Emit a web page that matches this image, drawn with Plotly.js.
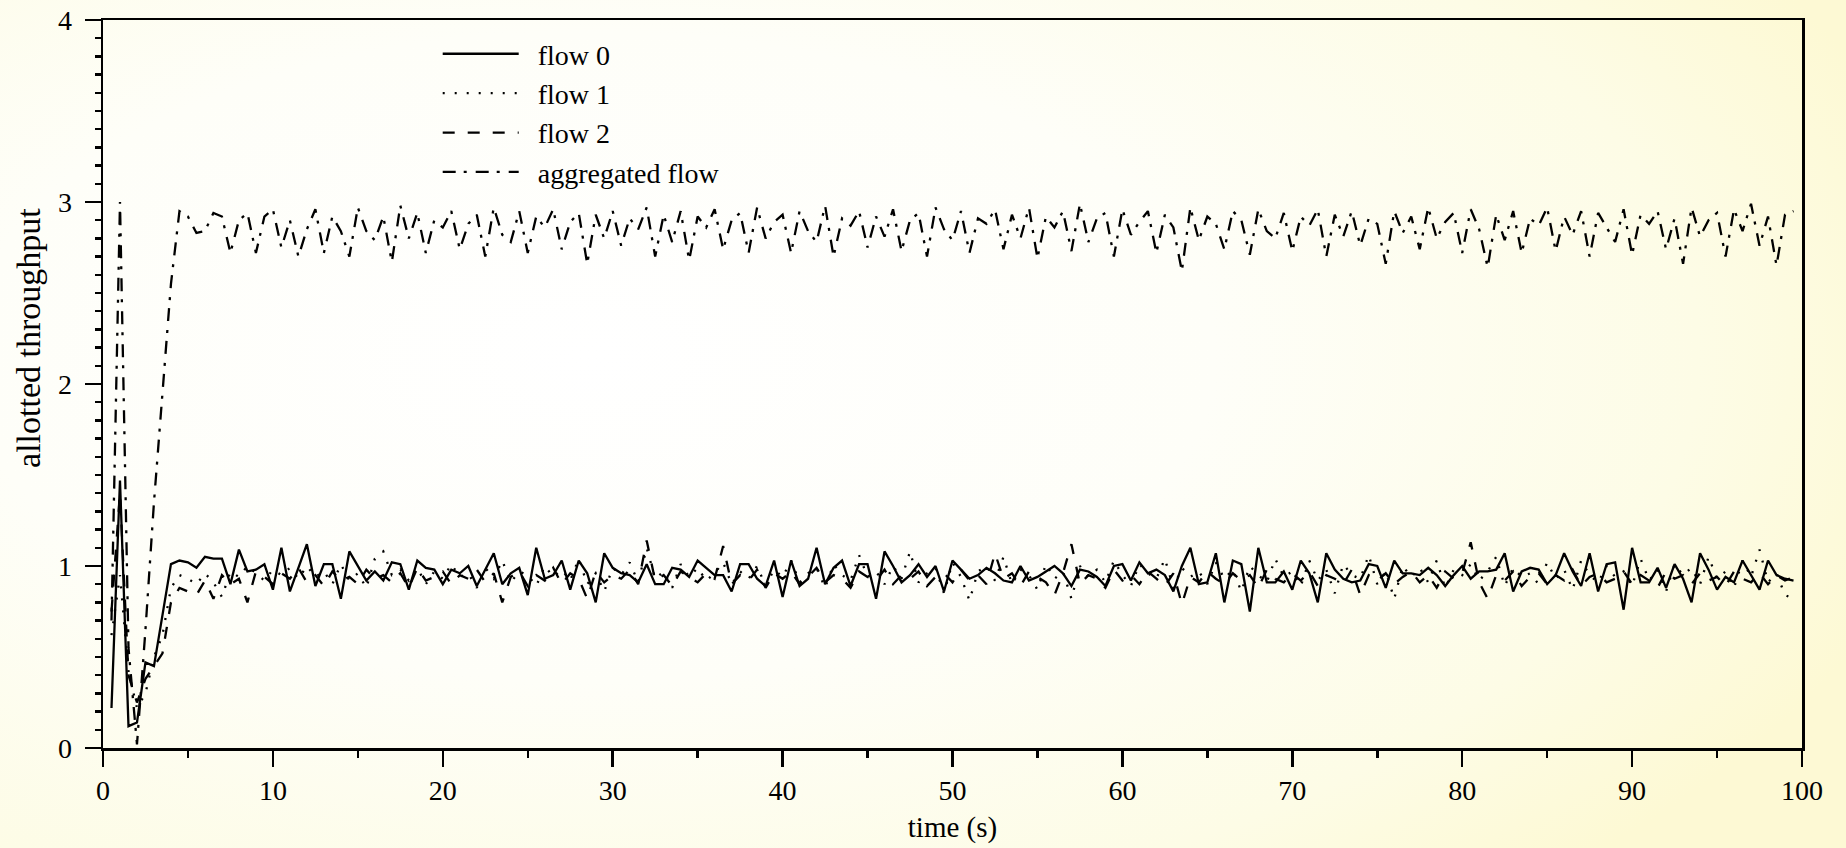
<!DOCTYPE html>
<html>
<head>
<meta charset="utf-8">
<script src="https://cdn.plot.ly/plotly-3.0.1.min.js"></script>
<style>
  html, body { margin: 0; padding: 0; }
  body {
    width: 1846px; height: 848px; overflow: hidden;
    background: radial-gradient(ellipse 75% 85% at 32% 42%, #ffffff 0%, #fefef8 45%, #fdfce6 80%, #fdf9d4 100%);
  }
  #chart { width: 1846px; height: 848px; }
</style>
</head>
<body>
<div id="chart"></div>
<script>
// sampling instants (s): every 0.5 s from 0.5 to 99.5
const time = Array.from({length: 199}, (_, i) => 0.5 * (i + 1));

const flow0 = [
0.22,1.47,0.12,0.14,0.47,0.45,0.73,1.01,1.03,1.02,
0.99,1.05,1.04,1.04,0.90,1.09,0.97,0.98,1.01,0.87,
1.10,0.86,0.99,1.12,0.89,1.01,1.01,0.82,1.08,1.00,
0.92,0.97,0.92,1.02,1.01,0.87,1.03,0.99,0.98,0.90,
0.98,0.96,1.00,0.89,0.98,1.07,0.90,0.96,0.99,0.84,
1.10,0.93,0.95,1.03,0.87,1.03,0.96,0.80,1.07,0.99,
0.96,0.95,0.91,1.01,0.90,0.90,0.99,0.98,0.94,1.03,
0.99,0.95,0.95,0.86,1.01,1.01,0.93,0.89,1.03,0.83,
1.03,0.89,0.93,1.10,0.90,0.99,1.03,0.89,1.01,1.01,
0.82,1.08,1.00,0.91,0.95,1.01,0.94,1.00,0.86,1.03,
0.98,0.93,0.95,0.99,0.96,0.92,0.91,1.00,0.92,0.94,
0.97,1.00,0.96,0.89,0.98,0.97,0.94,0.89,1.00,1.01,
0.92,1.02,0.96,0.98,0.95,0.86,1.00,1.10,0.90,0.91,
1.07,0.80,1.03,1.01,0.75,1.10,0.91,0.91,0.97,0.87,
1.03,0.96,0.80,1.07,0.98,0.93,0.91,0.92,1.01,1.00,
0.88,1.03,0.96,0.96,0.95,0.99,0.95,0.89,0.95,1.00,
0.93,0.97,0.97,0.98,1.07,0.86,0.97,0.99,0.98,0.90,
0.95,1.07,0.97,0.89,1.07,0.86,1.01,1.02,0.76,1.10,
0.91,0.91,0.99,0.88,1.01,0.93,0.80,1.07,0.98,0.87,
0.94,0.91,1.03,0.95,0.87,1.03,0.95,0.93,0.92
];

const flow1 = [
0.62,0.95,0.42,0.22,0.30,0.50,0.62,0.88,0.95,0.93,
0.90,0.96,0.91,0.83,0.97,0.94,1.00,0.96,0.92,0.98,
0.95,0.99,0.93,1.00,0.94,0.97,0.90,1.01,0.92,0.96,
0.88,1.04,1.08,0.95,0.98,0.92,0.99,0.90,0.97,0.93,
1.01,0.94,0.96,0.88,0.99,0.93,1.03,0.91,0.97,0.95,
0.89,1.00,0.94,0.98,0.92,1.04,0.90,0.96,0.86,0.99,
0.95,1.02,0.91,1.10,0.93,0.97,0.88,1.01,0.94,0.99,
0.92,0.96,1.02,0.90,0.97,0.93,1.00,0.89,0.98,0.94,
1.03,0.91,0.96,0.99,0.88,1.01,0.95,0.92,1.06,0.94,
0.97,0.90,1.00,0.93,1.08,0.91,0.96,0.99,0.85,1.02,
0.94,0.81,0.97,1.00,0.92,1.05,0.90,0.98,0.95,0.87,
1.01,0.93,0.97,0.82,1.00,0.94,0.98,0.91,1.03,0.95,
0.89,1.01,0.96,0.93,1.04,0.88,0.99,0.94,0.97,0.90,
1.02,0.93,0.98,0.86,1.00,0.95,0.91,1.04,0.94,0.97,
0.89,1.03,0.92,0.98,0.85,1.01,0.95,0.93,1.06,0.90,
0.97,0.82,1.00,0.94,0.99,0.91,1.03,0.88,0.98,0.95,
1.01,0.92,0.97,1.05,0.89,0.99,0.94,0.96,0.90,1.02,
0.93,0.98,0.87,1.03,0.95,0.91,1.00,0.94,0.97,0.89,
1.04,0.92,0.98,0.86,1.01,0.95,0.99,0.90,1.05,0.93,
0.97,0.88,1.03,0.94,1.09,0.91,0.96,0.84,0.82
];

const flow2 = [
0.75,1.40,0.40,0.25,0.38,0.45,0.52,0.80,0.88,0.86,
0.84,0.92,0.82,0.95,0.90,0.93,0.80,0.97,0.94,0.90,
0.96,0.93,0.99,0.91,0.95,0.89,0.97,0.92,0.94,0.90,
0.98,0.93,0.95,0.91,0.96,0.88,0.99,0.92,0.94,0.97,
0.90,0.95,0.93,0.98,0.91,0.96,0.80,0.94,0.97,0.89,
0.95,0.92,0.99,0.90,0.96,0.93,0.82,0.97,0.91,0.95,
0.93,0.98,0.90,1.14,0.92,0.95,0.89,0.97,0.94,0.91,
0.96,0.93,1.11,0.90,0.95,0.92,0.98,0.88,0.96,0.93,
0.97,0.90,0.94,0.99,0.91,0.95,0.93,0.88,0.97,0.94,
0.92,0.98,0.90,0.95,0.93,0.97,0.89,0.94,0.96,0.91,
0.98,0.92,0.95,0.90,1.07,0.93,0.96,0.89,0.97,0.94,
0.91,0.84,0.96,1.12,0.90,0.95,0.93,0.88,0.98,0.92,
0.95,0.90,0.97,0.93,0.89,0.96,0.79,0.94,0.91,0.97,
0.93,0.90,0.96,0.92,0.95,0.88,0.98,0.93,0.91,0.96,
0.92,0.97,0.89,0.95,0.93,0.90,0.98,0.84,0.95,0.92,
0.96,0.90,0.94,0.97,0.91,0.95,0.88,0.97,0.93,0.96,
1.13,0.91,0.82,0.95,0.92,0.97,0.89,0.94,0.96,0.90,
0.95,0.92,0.98,0.89,0.94,0.96,0.91,0.93,0.97,0.90,
0.95,0.92,0.88,0.97,0.93,0.95,0.90,0.96,0.92,0.94,
0.89,0.97,0.93,0.91,0.96,0.90,0.95,0.92,0.94
];

const aggregated = [
0.70,3.00,0.55,0.02,0.65,1.35,1.95,2.55,2.95,2.92,
2.83,2.84,2.94,2.92,2.72,2.90,2.94,2.72,2.92,2.96,
2.75,2.90,2.70,2.85,2.96,2.72,2.92,2.84,2.70,2.97,
2.84,2.79,2.92,2.67,2.98,2.80,2.94,2.72,2.90,2.86,
2.95,2.74,2.88,2.93,2.70,2.97,2.82,2.78,2.95,2.72,
2.92,2.86,2.96,2.74,2.89,2.94,2.66,2.93,2.80,2.95,
2.76,2.91,2.85,2.97,2.70,2.93,2.78,2.95,2.68,2.92,
2.86,2.96,2.74,2.90,2.94,2.72,2.97,2.80,2.89,2.93,
2.72,2.95,2.84,2.78,2.98,2.70,2.91,2.87,2.95,2.75,
2.92,2.81,2.96,2.73,2.90,2.94,2.70,2.97,2.85,2.79,
2.95,2.72,2.91,2.88,2.96,2.74,2.93,2.80,2.97,2.69,
2.92,2.86,2.95,2.73,2.99,2.78,2.91,2.94,2.70,2.96,
2.82,2.89,2.95,2.72,2.93,2.86,2.62,2.97,2.79,2.92,
2.88,2.74,2.95,2.90,2.71,2.96,2.84,2.80,2.94,2.73,
2.92,2.87,2.96,2.70,2.93,2.81,2.95,2.76,2.91,2.88,
2.66,2.95,2.83,2.92,2.74,2.97,2.80,2.89,2.94,2.72,
2.96,2.85,2.64,2.93,2.79,2.95,2.72,2.91,2.87,2.97,
2.73,2.92,2.82,2.95,2.70,2.94,2.86,2.78,2.96,2.71,
2.93,2.88,2.95,2.74,2.91,2.66,2.97,2.81,2.90,2.94,
2.70,2.96,2.84,2.99,2.76,2.92,2.65,2.93,2.95
];

const seriesNames = ['flow 0', 'flow 1', 'flow 2', 'aggregated flow'];
const xTickVals = [0, 10, 20, 30, 40, 50, 60, 70, 80, 90, 100];
const yTickVals = [0, 1, 2, 3, 4];
const xTitle = 'time (s)';
const yTitle = 'allotted throughput';

const dashes = ['solid', '2px,10px', '12px,13px', '13px,8px,3px,9px'];
const values = [flow0, flow1, flow2, aggregated];

const traces = values.map((v, k) => ({
  type: 'scatter',
  mode: 'lines',
  name: '\u2002' + seriesNames[k],
  x: time,
  y: v,
  line: { color: '#000000', width: 2.3, dash: dashes[k] }
}));

const FONT = 'Liberation Serif, Times New Roman, serif';

const layout = {
  width: 1846,
  height: 848,
  margin: { l: 103, r: 44, t: 20, b: 100 },
  paper_bgcolor: 'rgba(0,0,0,0)',
  plot_bgcolor: 'rgba(0,0,0,0)',
  font: { family: FONT, color: '#000000', size: 26 },
  showlegend: true,
  legend: {
    x: 0.197, xanchor: 'left',
    y: 0.9876, yanchor: 'top',
    bgcolor: 'rgba(0,0,0,0)',
    borderwidth: 0,
    itemwidth: 76,
    tracegroupgap: 0,
    font: { family: FONT, size: 28, color: '#000000' }
  },
  xaxis: {
    range: [0, 100],
    tickvals: xTickVals,
    ticktext: xTickVals.map(String),
    showgrid: false, zeroline: false,
    showline: true, linecolor: '#000000', linewidth: 2.5, mirror: true,
    ticks: 'outside', ticklen: 16, tickwidth: 2.5, tickcolor: '#000000',
    minor: { dtick: 5, tick0: 0, ticks: 'outside', ticklen: 7, tickwidth: 2.5, tickcolor: '#000000', showgrid: false },
    tickfont: { family: FONT, size: 28 },
    title: { text: xTitle, font: { family: FONT, size: 29 }, standoff: 12 }
  },
  yaxis: {
    range: [0, 4],
    tickvals: yTickVals,
    ticktext: yTickVals.map(String),
    showgrid: false, zeroline: false,
    showline: true, linecolor: '#000000', linewidth: 2.5, mirror: true,
    ticks: 'outside', ticklen: 16, tickwidth: 2.5, tickcolor: '#000000',
    ticklabelstandoff: 7,
    minor: { dtick: 0.1, tick0: 0, ticks: 'outside', ticklen: 6, tickwidth: 2.5, tickcolor: '#000000', showgrid: false },
    tickfont: { family: FONT, size: 28 },
    title: { text: '' }
  },
  annotations: [{
    text: yTitle,
    xref: 'paper', yref: 'paper',
    x: -0.0436, y: 0.5632,
    xanchor: 'center', yanchor: 'middle',
    textangle: -90,
    showarrow: false,
    font: { family: FONT, size: 34, color: '#000000' }
  }]
};

Plotly.newPlot('chart', traces, layout, { displayModeBar: false, staticPlot: true });
</script>
</body>
</html>
